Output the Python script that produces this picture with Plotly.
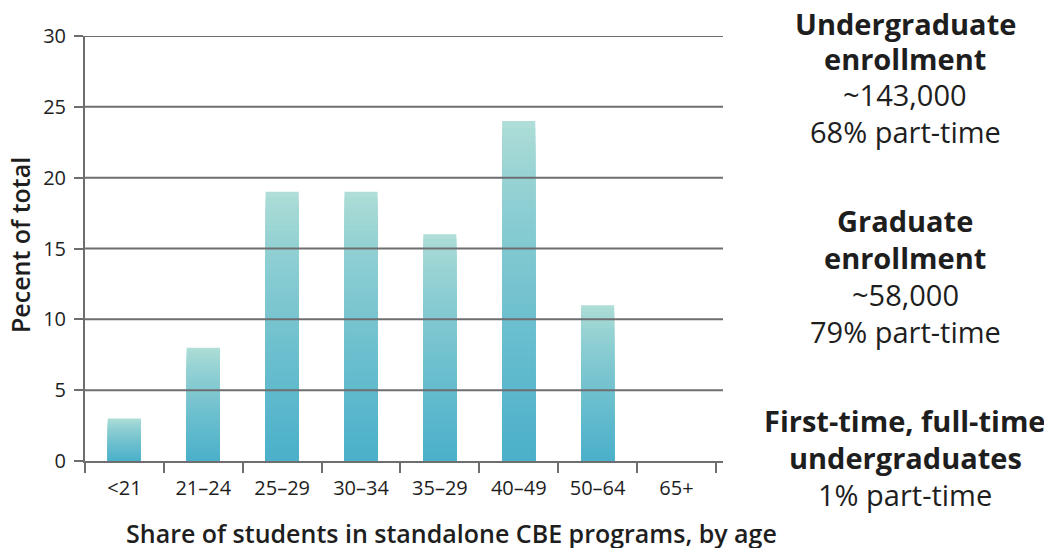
import plotly.graph_objects as go

categories = ["<21", "21–24", "25–29", "30–34", "35–29", "40–49", "50–64", "65+"]
values = [3, 8, 19, 19, 16, 24, 11, 0]
y_ticks = [0, 5, 10, 15, 20, 25, 30]

x_title = "Share of students in standalone CBE programs, by age"
y_title = "Pecent of total"

# (text, bold, centre-y on page)
note_lines = [
    ("Undergraduate", True, 23),
    ("enrollment", True, 58),
    ("~143,000", False, 95),
    ("68% part-time", False, 132),
    ("Graduate", True, 220),
    ("enrollment", True, 257),
    ("~58,000", False, 294),
    ("79% part-time", False, 331),
    ("First-time, full-time", True, 420),
    ("undergraduates", True, 457),
    ("1% part-time", False, 494),
]

LIGHT = (178, 223, 215)
DARK = (75, 176, 202)
N = 48


def mix(t):
    f = min(1.0, t) ** 0.75
    return "rgb(%d,%d,%d)" % tuple(round(a + (b - a) * f) for a, b in zip(LIGHT, DARK))


fig = go.Figure()
for k in range(N):
    frac = 1 - k / N
    fig.add_trace(go.Bar(
        x=categories,
        y=[v * frac for v in values],
        width=0.42,
        marker=dict(color=mix((k + 0.5) / N), line=dict(width=0)),
        hoverinfo="skip",
        showlegend=False,
    ))

GRID = "#6e6e70"
TXT = "#1e1e1e"
FONT = "Open Sans"

for yv in y_ticks[1:]:
    fig.add_shape(type="line", xref="paper", yref="y", x0=0, x1=1, y0=yv, y1=yv,
                  line=dict(color=GRID, width=2), layer="above")

W, H = 1052, 548
OFF = 8  # page body margin
L, T = 85 - OFF, 36 - OFF
R, B = W - (723 - OFF), H - (461 - OFF)
pw, ph = W - L - R, H - T - B


def px(xpage):
    return (xpage - OFF - L) / pw


def py(ypage):
    return (H - B - (ypage - OFF)) / ph


for text, bold, yc in note_lines:
    fig.add_annotation(
        text=text, xref="paper", yref="paper", x=px(905), y=py(yc),
        xanchor="center", yanchor="middle", showarrow=False, borderpad=0,
        font=dict(family=FONT, size=29 if bold else 29, color=TXT,
                  weight=700 if bold else 400),
    )

fig.add_annotation(text=x_title, xref="paper", yref="paper", x=px(452), y=py(533),
                   xanchor="center", yanchor="middle", showarrow=False,
                   font=dict(family=FONT, size=25, color=TXT, weight=600))
fig.add_annotation(text=y_title, xref="paper", yref="paper", x=px(20), y=py(245),
                   xanchor="center", yanchor="middle", showarrow=False, textangle=-90,
                   borderpad=0,
                   font=dict(family=FONT, size=25, color=TXT, weight=600))

fig.update_layout(
    width=W, height=H,
    margin=dict(l=L, r=R, t=T, b=B, autoexpand=False),
    paper_bgcolor="white", plot_bgcolor="white",
    barmode="overlay",
    font=dict(family=FONT, color=TXT),
    xaxis=dict(
        range=[-0.5, 7.59], tickson="boundaries", ticks="outside", ticklen=10,
        tickwidth=2, tickcolor=GRID, showline=True, linecolor=GRID, linewidth=2,
        showgrid=False, layer="above traces", fixedrange=True,
        ticklabelstandoff=8,
        tickfont=dict(size=20, color=TXT),
    ),
    yaxis=dict(
        range=[0, 30], tickvals=y_ticks, ticks="outside", ticklen=9, tickwidth=2,
        tickcolor=GRID, showline=True, linecolor=GRID, linewidth=2,
        showgrid=False, zeroline=False, layer="above traces",
        ticklabelstandoff=4,
        tickfont=dict(size=20, color=TXT),
    ),
)

fig.write_html("out.html")
